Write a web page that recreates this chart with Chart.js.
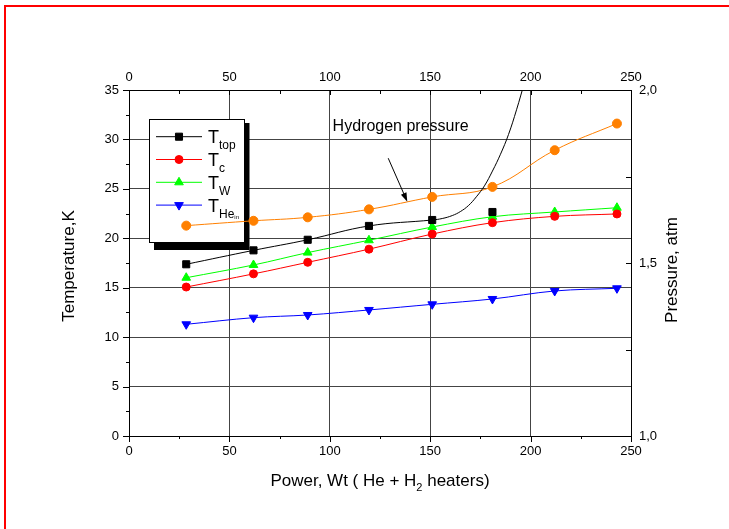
<!DOCTYPE html>
<html>
<head>
<meta charset="utf-8">
<script src="https://cdn.jsdelivr.net/npm/chart.js@4.4.1/dist/chart.umd.min.js"></script>
<style>
  html, body { margin: 0; padding: 0; background: #fff; }
  canvas { display: block; }
</style>
</head>
<body>
<canvas id="chart" width="729" height="529"></canvas>
<script>
// heater power, Wt
const power = [28.5, 62, 89, 119.5, 151, 181, 212, 243];
// temperatures, K
const tTop = [17.37, 18.78, 19.85, 21.25, 21.85, 22.66];
const tC = [15.07, 16.4, 17.57, 18.9, 20.43, 21.58, 22.22, 22.46];
const tW = [16.01, 17.3, 18.55, 19.8, 21.14, 22.18, 22.66, 23.09];
const tHeIn = [11.3, 11.97, 12.24, 12.75, 13.32, 13.86, 14.67, 14.94];
// hydrogen pressure, atm (right axis)
const pH2 = [1.608, 1.622, 1.632, 1.655, 1.691, 1.72, 1.826, 1.903];
// black guide curve traced through T_top and up past the top
const topCurvePower = [28.5, 62, 89, 119.5, 151, 156, 161, 165, 169, 173, 177, 181, 185, 189, 193, 197];
const topCurveT = [17.37, 18.78, 19.85, 21.25, 21.85, 22.0, 22.3, 22.7, 23.3, 24.2, 25.3, 26.8, 28.5, 30.5, 33.0, 35.8];

const legendLabels = [['T', 'top'], ['T', 'c'], ['T', 'W'], ['T', 'He', 'in']];

const FONT = "'Liberation Sans', Arial, sans-serif";
Chart.defaults.font.family = FONT;
Chart.defaults.color = '#000';

const pts = (xs, ys) => ys.map((y, i) => ({ x: xs[i], y }));

// white page with the red frame
const frame = {
  id: 'frame',
  beforeDraw(chart) {
    const ctx = chart.ctx;
    ctx.save();
    ctx.fillStyle = '#fff';
    ctx.fillRect(0, 0, chart.width, chart.height);
    ctx.strokeStyle = '#ff0000';
    ctx.lineWidth = 2;
    ctx.beginPath();
    ctx.moveTo(5, chart.height);
    ctx.lineTo(5, 6);
    ctx.lineTo(chart.width, 6);
    ctx.stroke();
    ctx.restore();
  }
};

// legend box with shadow, drawn under the datasets (orange line crosses it)
const legendBox = {
  id: 'legendBox',
  beforeDatasetsDraw(chart) {
    const ctx = chart.ctx;
    const a = chart.chartArea;
    const bx = a.left + 20, by = a.top + 29, bw = 95, bh = 123;
    ctx.save();
    ctx.fillStyle = '#000';
    ctx.fillRect(bx + 5, by + 4, bw + 0.5, bh + 4);
    ctx.fillStyle = '#fff';
    ctx.fillRect(bx, by, bw, bh);
    ctx.strokeStyle = '#000';
    ctx.lineWidth = 1;
    ctx.strokeRect(bx + 0.5, by + 0.5, bw, bh);

    const sets = [0, 2, 3, 4].map(i => chart.data.datasets[i]);
    sets.forEach((ds, i) => {
      const y = by + 17.7 + i * 22.8;
      ctx.strokeStyle = ds.borderColor;
      ctx.lineWidth = 1;
      ctx.beginPath();
      ctx.moveTo(bx + 7, y);
      ctx.lineTo(bx + 53, y);
      ctx.stroke();
      ctx.fillStyle = ds.pointBackgroundColor;
      ctx.strokeStyle = ds.borderColor;
      Chart.helpers.drawPoint(ctx, {
        pointStyle: ds.pointStyle, rotation: ds.pointRotation || 0,
        radius: ds.pointRadius, borderWidth: 1
      }, bx + 30, y);

      const lab = legendLabels[i];
      ctx.fillStyle = '#000';
      ctx.textAlign = 'left';
      ctx.textBaseline = 'alphabetic';
      ctx.font = '18px ' + FONT;
      const tx = bx + 59;
      ctx.fillText(lab[0], tx, y + 6.5);
      const w0 = ctx.measureText(lab[0]).width;
      ctx.font = '12px ' + FONT;
      ctx.fillText(lab[1], tx + w0, y + 12.5);
      if (lab[2]) {
        const w1 = ctx.measureText(lab[1]).width;
        ctx.font = '6px ' + FONT;
        ctx.fillText(lab[2], tx + w0 + w1, y + 14);
      }
    });
    ctx.restore();
  }
};

// tick marks (major + minor) on all four axes
const tickMarks = {
  id: 'tickMarks',
  afterDatasetsDraw(chart) {
    const ctx = chart.ctx;
    const s = chart.scales;
    const a = chart.chartArea;
    ctx.save();
    ctx.strokeStyle = '#000';
    ctx.lineWidth = 1;
    ctx.beginPath();
    for (let v = 0; v <= 250; v += 25) {
      const major = v % 50 === 0;
      const px = Math.round(s.x.getPixelForValue(v)) + 0.5;
      ctx.moveTo(px, a.bottom);
      ctx.lineTo(px, a.bottom + (major ? 6 : 3));
      const qx = Math.round(s.x2.getPixelForValue(v)) + 0.5;
      ctx.moveTo(qx, a.top);
      ctx.lineTo(qx, a.top + (major ? 5 : 4));
    }
    for (let v = 0; v <= 35; v += 2.5) {
      const major = v % 5 === 0;
      const py = Math.round(s.y.getPixelForValue(v)) + 0.5;
      ctx.moveTo(a.left, py);
      ctx.lineTo(a.left - (major ? 6 : 3), py);
    }
    for (let v = 1; v <= 2.001; v += 0.25) {
      const py = Math.round(s.y2.getPixelForValue(v)) + 0.5;
      ctx.moveTo(a.right, py);
      ctx.lineTo(a.right - 5, py);
    }
    ctx.stroke();
    ctx.restore();
  }
};

// annotation, arrow and axis titles
const texts = {
  id: 'texts',
  afterDraw(chart) {
    const ctx = chart.ctx;
    const s = chart.scales;
    const a = chart.chartArea;
    ctx.save();
    ctx.fillStyle = '#000';
    ctx.strokeStyle = '#000';

    ctx.font = '16px ' + FONT;
    ctx.textAlign = 'left';
    ctx.textBaseline = 'alphabetic';
    ctx.fillText('Hydrogen pressure', s.x.getPixelForValue(101.4), s.y.getPixelForValue(30.9));

    const x0 = s.x.getPixelForValue(129.1), y0 = s.y.getPixelForValue(28.1);
    const x1 = s.x.getPixelForValue(138.6), y1 = s.y.getPixelForValue(23.7);
    const ang = Math.atan2(y1 - y0, x1 - x0);
    ctx.lineWidth = 1;
    ctx.beginPath();
    ctx.moveTo(x0, y0);
    ctx.lineTo(x1 - 6 * Math.cos(ang), y1 - 6 * Math.sin(ang));
    ctx.stroke();
    ctx.beginPath();
    ctx.moveTo(x1, y1);
    ctx.lineTo(x1 - 9 * Math.cos(ang) + 3 * Math.sin(ang), y1 - 9 * Math.sin(ang) - 3 * Math.cos(ang));
    ctx.lineTo(x1 - 9 * Math.cos(ang) - 3 * Math.sin(ang), y1 - 9 * Math.sin(ang) + 3 * Math.cos(ang));
    ctx.closePath();
    ctx.fill();

    ctx.font = '17px ' + FONT;
    ctx.textAlign = 'center';
    ctx.textBaseline = 'middle';
    ctx.save();
    ctx.translate(69, (a.top + a.bottom) / 2 + 3);
    ctx.rotate(-Math.PI / 2);
    ctx.fillText('Temperature,K', 0, 0);
    ctx.restore();
    ctx.save();
    ctx.translate(672, (a.top + a.bottom) / 2 + 7);
    ctx.rotate(-Math.PI / 2);
    ctx.fillText('Pressure, atm', 0, 0);
    ctx.restore();

    // bottom title with subscript 2
    ctx.textAlign = 'left';
    ctx.textBaseline = 'alphabetic';
    const p1 = 'Power, Wt ( He + H', sub = '2', p2 = ' heaters)';
    ctx.font = '17px ' + FONT;
    const w1 = ctx.measureText(p1).width, w3 = ctx.measureText(p2).width;
    ctx.font = '11px ' + FONT;
    const w2 = ctx.measureText(sub).width;
    let tx = (a.left + a.right) / 2 - (w1 + w2 + w3) / 2;
    const base = 486;
    ctx.font = '17px ' + FONT;
    ctx.fillText(p1, tx, base);
    ctx.font = '11px ' + FONT;
    ctx.fillText(sub, tx + w1, base + 5);
    ctx.font = '17px ' + FONT;
    ctx.fillText(p2, tx + w1 + w2, base);
    ctx.restore();
  }
};

const tickFont = { size: 13, family: FONT };
const gridColor = '#444';

new Chart(document.getElementById('chart').getContext('2d'), {
  type: 'line',
  data: {
    datasets: [
      { label: 'T top', data: pts(power, tTop), showLine: false, pointStyle: 'rect', pointRadius: 5,
        borderColor: '#000', backgroundColor: '#000', pointBackgroundColor: '#000', pointBorderWidth: 1 },
      { label: 'T top curve', data: pts(topCurvePower, topCurveT), pointRadius: 0, borderColor: '#000',
        borderWidth: 1, tension: 0.4 },
      { label: 'T c', data: pts(power, tC), borderColor: '#ff0000', pointBackgroundColor: '#ff0000',
        pointStyle: 'circle', pointRadius: 4, borderWidth: 1, pointBorderWidth: 1, tension: 0.35 },
      { label: 'T W', data: pts(power, tW), borderColor: '#00ff00', pointBackgroundColor: '#00ff00',
        pointStyle: 'triangle', pointRadius: 5, borderWidth: 1, pointBorderWidth: 1, tension: 0.35 },
      { label: 'T He in', data: pts(power, tHeIn), borderColor: '#0000ff', pointBackgroundColor: '#0000ff',
        pointStyle: 'triangle', pointRotation: 180, pointRadius: 5, borderWidth: 1, pointBorderWidth: 1,
        tension: 0.35 },
      { label: 'Hydrogen pressure', data: pts(power, pH2), yAxisID: 'y2', borderColor: '#ff8000',
        pointBackgroundColor: '#ff8000', pointStyle: 'circle', pointRadius: 4.5, borderWidth: 1,
        pointBorderWidth: 1, tension: 0.4 }
    ]
  },
  options: {
    responsive: false,
    animation: false,
    events: [],
    layout: { padding: 0, autoPadding: false },
    plugins: { legend: { display: false }, tooltip: { enabled: false } },
    scales: {
      x: {
        type: 'linear', position: 'bottom', min: 0, max: 250,
        ticks: { stepSize: 50, font: tickFont, padding: 8, maxRotation: 0 },
        grid: { color: gridColor, drawTicks: false },
        border: { color: '#000', width: 1 },
        afterFit: sc => { sc.height = 93; }
      },
      x2: {
        type: 'linear', position: 'top', min: 0, max: 250,
        ticks: { stepSize: 50, font: tickFont, padding: 5, maxRotation: 0 },
        grid: { display: false, drawTicks: false },
        border: { color: '#000', width: 1 },
        afterFit: sc => { sc.height = 90; }
      },
      y: {
        type: 'linear', position: 'left', min: 0, max: 35,
        ticks: { stepSize: 5, font: tickFont, padding: 10 },
        grid: { color: gridColor, drawTicks: false },
        border: { color: '#000', width: 1 },
        afterFit: sc => { sc.width = 129; }
      },
      y2: {
        type: 'linear', position: 'right', min: 1, max: 2,
        ticks: { stepSize: 0.5, font: tickFont, padding: 8,
                 callback: v => v.toFixed(1).replace('.', ',') },
        grid: { display: false, drawTicks: false },
        border: { color: '#000', width: 1 },
        afterFit: sc => { sc.width = 98; }
      }
    }
  },
  plugins: [frame, legendBox, tickMarks, texts]
});
</script>
</body>
</html>
